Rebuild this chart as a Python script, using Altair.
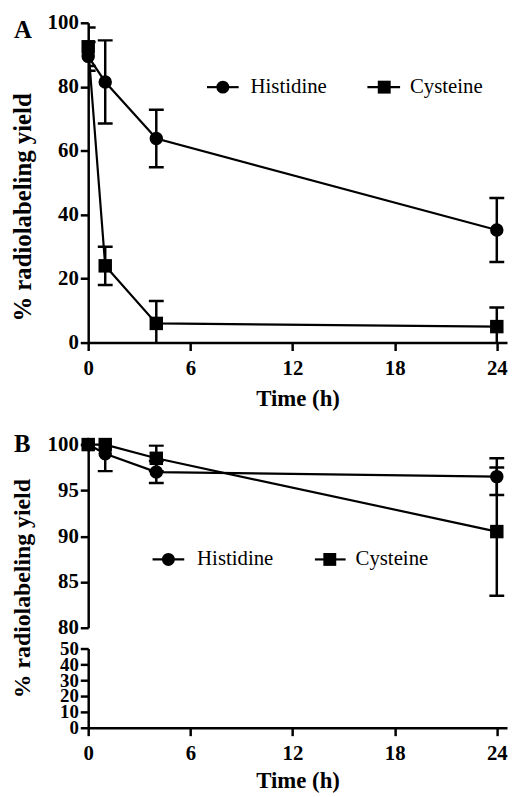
import altair as alt
import pandas as pd

# ---- values ----
time_h = [0, 1, 4, 24]
series_names = ["Histidine", "Cysteine"]

a_histidine = [89.5, 81.5, 63.8, 35.2]
a_histidine_sd = [4.5, 13.0, 9.0, 10.0]
a_cysteine = [92.5, 24.0, 6.0, 5.0]
a_cysteine_sd = [6.0, 6.0, 7.0, 6.0]

b_histidine = [100.0, 99.0, 97.0, 96.5]
b_histidine_sd = [0.0, 1.9, 1.2, 2.0]
b_cysteine = [100.0, 100.0, 98.5, 90.5]
b_cysteine_sd = [0.0, 0.0, 1.4, 7.0]

x_ticks = [0, 6, 12, 18, 24]
a_y_ticks = [0, 20, 40, 60, 80, 100]
b_upper_ticks = [80, 85, 90, 95, 100]
b_lower_ticks = [0, 10, 20, 30, 40, 50]

y_title = "% radiolabeling yield"
x_title = "Time (h)"
panel_letters = ["A", "B"]


def frame(his, his_sd, cys, cys_sd):
    rows = []
    for name, vals, sds in (("Histidine", his, his_sd), ("Cysteine", cys, cys_sd)):
        for t, v, s in zip(time_h, vals, sds):
            rows.append({"series": name, "time": t, "value": v, "sd": s,
                         "lo": v - s, "hi": v + s})
    return pd.DataFrame(rows)


df_a = frame(a_histidine, a_histidine_sd, a_cysteine, a_cysteine_sd)
df_b = frame(b_histidine, b_histidine_sd, b_cysteine, b_cysteine_sd)

# ---- styling / layout ----
FONT = "Liberation Serif, Times New Roman, Times, serif"
W = 423
XDOM = [0, 24.6]
A_H = 323
B_UP_H = 185
B_LOW_H = 80
B_H = 286


def x_enc(title_pad):
    return alt.X("time:Q", scale=alt.Scale(domain=XDOM, nice=False, zero=False),
                 axis=alt.Axis(values=x_ticks, title=x_title, format="d",
                               labelPadding=7, titlePadding=title_pad))


def data_layers(df, yscale, yaxis, title_pad):
    base = alt.Chart(df)

    def Y(field):
        return alt.Y(f"{field}:Q", scale=yscale, axis=yaxis)

    X = x_enc(title_pad)
    line = base.mark_line(color="black", strokeWidth=2.2).encode(
        x=X, y=Y("value"), detail="series:N")
    bars = base.transform_filter("datum.sd > 0").mark_rule(
        color="black", strokeWidth=2.5, clip=True).encode(
        x=X, y=Y("lo"), y2="hi:Q")
    cap_lo = base.transform_filter("datum.sd > 0").mark_tick(
        orient="horizontal", color="black", size=15, thickness=2.5,
        clip=True, opacity=1).encode(x=X, y=Y("lo"))
    cap_hi = base.transform_filter("datum.sd > 0").mark_tick(
        orient="horizontal", color="black", size=15, thickness=2.5,
        clip=True, opacity=1).encode(x=X, y=Y("hi"))
    pts = base.mark_point(filled=True, color="black", opacity=1, size=185).encode(
        x=X, y=Y("value"),
        shape=alt.Shape("series:N",
                        scale=alt.Scale(domain=series_names, range=["circle", "square"]),
                        legend=None))
    return [line, bars, cap_lo, cap_hi, pts]


def legend_layers(y, his_pos, cys_pos):
    out = []
    for name, shape, (x1, xc, x2, xt) in ((series_names[0], "circle", his_pos),
                                          (series_names[1], "square", cys_pos)):
        d = pd.DataFrame({"label": [name]})
        b = alt.Chart(d)
        out.append(b.mark_rule(color="black", strokeWidth=2.2).encode(
            x=alt.value(x1), x2=alt.value(x2), y=alt.value(y)))
        out.append(b.mark_point(shape=shape, filled=True, color="black", opacity=1,
                                size=170).encode(x=alt.value(xc), y=alt.value(y)))
        out.append(b.mark_text(align="left", baseline="middle", font=FONT,
                               fontSize=21, color="black").encode(
            x=alt.value(xt), y=alt.value(y), text="label:N"))
    return out


def letter_layer(letter, y):
    d = pd.DataFrame({"letter": [letter]})
    return alt.Chart(d).mark_text(align="left", baseline="alphabetic", font=FONT,
                                  fontSize=25, fontWeight="bold", color="black").encode(
        x=alt.value(-75), y=alt.value(y), text="letter:N")


# ---- panel A ----
a_scale = alt.Scale(domain=[0, 100], nice=False, zero=False)
a_axis = alt.Axis(values=a_y_ticks, title=y_title, orient="left",
                  titleFontSize=25, titleX=-53, titleY=186)
panel_a = alt.layer(
    *data_layers(df_a, a_scale, a_axis, 10),
    *legend_layers(65, (120, 136, 152, 164), (282, 299, 315, 325)),
    letter_layer(panel_letters[0], 15),
).properties(width=W, height=A_H)

# ---- panel B (broken y axis) ----
b_up_scale = alt.Scale(domain=[80, 100], range=[B_UP_H, 0], nice=False, zero=False)
b_up_axis = alt.Axis(values=b_upper_ticks, title=y_title, orient="left",
                     titleFontSize=24, titleX=-54, titleY=145)
b_upper = alt.layer(
    *data_layers(df_b, b_up_scale, b_up_axis, 6),
    *legend_layers(116, (65, 81, 97, 110), (229, 244, 260, 270)),
    letter_layer(panel_letters[1], 7),
)

lower_df = pd.DataFrame({"tick": b_lower_ticks})
b_lower = alt.Chart(lower_df).mark_point(opacity=0, size=1).encode(
    x=alt.value(0),
    y=alt.Y("tick:Q",
            scale=alt.Scale(domain=[0, 50], range=[B_H, B_H - B_LOW_H],
                            nice=False, zero=False),
            axis=alt.Axis(values=b_lower_ticks, title=None, orient="left",
                          labelFontSize=19)),
)

panel_b = alt.layer(b_upper, b_lower).resolve_scale(y="independent").resolve_axis(
    y="independent").properties(width=W, height=B_H)

chart = alt.vconcat(panel_a, panel_b, spacing=103, bounds="flush").properties(
    padding={"left": 2, "top": 0, "right": 0, "bottom": 0}
).configure_view(stroke=None).configure_axis(
    domainColor="black", domainWidth=2.5, tickColor="black", tickWidth=2.5,
    tickSize=8, labelFont=FONT, labelFontWeight="bold", labelFontSize=21,
    labelColor="black", labelPadding=2, labelFlush=False, labelOverlap=False,
    titleFont=FONT, titleFontWeight="bold", titleFontSize=23, titleColor="black",
    grid=False,
)

chart.save("out.html", embed_options={"renderer": "svg", "actions": False})
